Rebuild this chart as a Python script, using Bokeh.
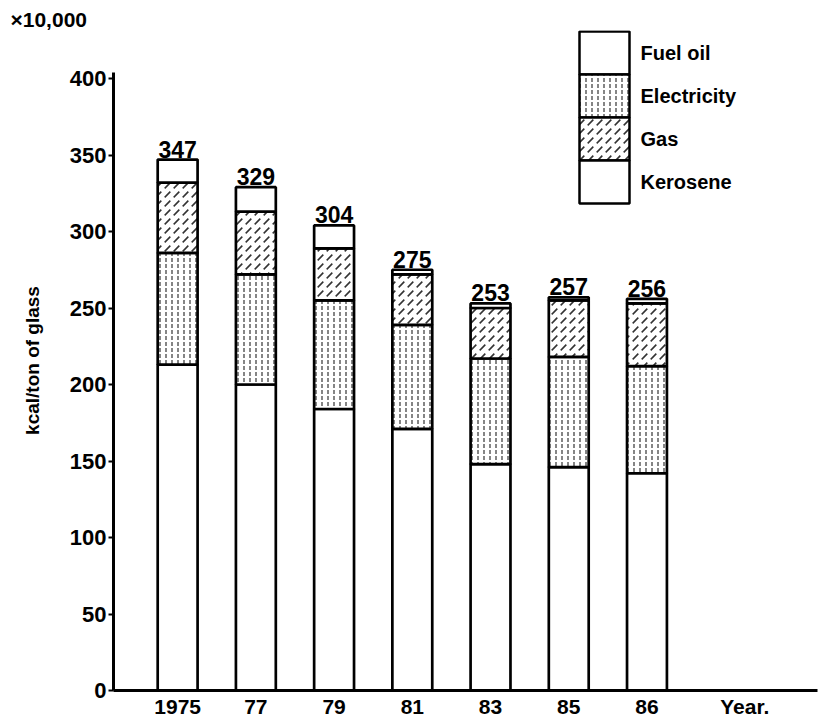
from bokeh.plotting import figure
from bokeh.models import ColumnDataSource, FixedTicker
from bokeh.embed import file_html
from bokeh.resources import INLINE
from bokeh.core.properties import value

years = ["1975", "77", "79", "81", "83", "85", "86"]
fuel_oil = [213, 200, 184, 171, 148, 146, 142]
electricity = [73, 72, 71, 68, 69, 72, 70]
gas = [46, 41, 34, 33, 33, 37, 41]
kerosene = [15, 16, 15, 3, 3, 2, 3]
totals = [347, 329, 304, 275, 253, 257, 256]
series = ["Fuel oil", "Electricity", "Gas", "Kerosene"]
y_ticks = [0, 50, 100, 150, 200, 250, 300, 350, 400]

FONT = "Liberation Sans"
HATCH = [" ", "vertical_dash", "right_diagonal_dash", " "]
HSCALE = [6, 6, 9, 6]
HWEIGHT = [1, 1.2, 1.6, 1]
HALPHA = [0, 0.8, 0.8, 0]

# frame geometry (px) and ranges
LEFT, RIGHT, TOP, BOTTOM = 113, 817, 30, 690
X0, X1 = -0.82, 8.18
PX_PER_Y = (BOTTOM - 78) / 400.0
Y1 = (BOTTOM - TOP) / PX_PER_Y
PX_PER_X = (RIGHT - LEFT) / (X1 - X0)


def dx(px):
    return X0 + (px - LEFT) / PX_PER_X


def dy(py):
    return (BOTTOM - py) / PX_PER_Y


xs = list(range(len(years)))
src = ColumnDataSource(dict(x=xs, fuel=fuel_oil, elec=electricity, gas=gas,
                            kero=kerosene, total=totals,
                            lbl=[str(t) for t in totals]))

p = figure(width=822, height=720, output_backend="svg", toolbar_location=None,
           x_range=(X0, X1), y_range=(0, Y1),
           min_border_left=LEFT, min_border_right=822 - RIGHT,
           min_border_top=TOP, min_border_bottom=720 - BOTTOM)
p.outline_line_color = None
p.grid.visible = False

p.vbar_stack(["fuel", "elec", "gas", "kero"], x="x", width=0.51, source=src,
             fill_color="white", line_color="black", line_width=2.7,
             hatch_pattern=HATCH, hatch_color="black", hatch_scale=HSCALE,
             hatch_weight=HWEIGHT, hatch_alpha=HALPHA)

p.text(x="x", y="total", text="lbl", source=src, text_align="center",
       text_baseline="bottom", y_offset=-2, text_font=value(FONT),
       text_font_style="bold", text_font_size="23px", text_color="black")

# legend: a contiguous column of boxes, top to bottom
box_tops = [31 + 43 * i for i in range(4)]
lsrc = ColumnDataSource(dict(
    left=[dx(579)] * 4, right=[dx(629)] * 4,
    top=[dy(t) for t in box_tops], bottom=[dy(t + 43) for t in box_tops],
    hatch=HATCH, hs=HSCALE, hw=HWEIGHT, ha=HALPHA,
    tx=[dx(640)] * 4, ty=[dy(t + 21.5) for t in box_tops], label=series))
p.quad(left="left", right="right", top="top", bottom="bottom", source=lsrc,
       fill_color="white", line_color="black", line_width=2.5,
       hatch_pattern="hatch", hatch_scale="hs", hatch_weight="hw",
       hatch_alpha="ha", hatch_color="black")
p.text(x="tx", y="ty", text="label", source=lsrc, text_baseline="middle",
       text_font=value(FONT), text_font_style="bold", text_font_size="20px",
       text_color="black")

tick_pos = xs + [7.25]
p.xaxis.ticker = FixedTicker(ticks=tick_pos)
ov = {i: y for i, y in enumerate(years)}
ov[7.25] = "Year."
p.xaxis.major_label_overrides = ov
p.xaxis.major_tick_line_color = None
p.xaxis.major_tick_out = 0
p.xaxis.major_tick_in = 0
p.xaxis.minor_tick_line_color = None
p.xaxis.axis_line_width = 3
p.xaxis.major_label_text_font = FONT
p.xaxis.major_label_text_font_style = "bold"
p.xaxis.major_label_text_font_size = "21px"
p.xaxis.major_label_text_color = "black"
p.xaxis.major_label_standoff = 4

p.yaxis.ticker = FixedTicker(ticks=y_ticks)
p.yaxis.bounds = (0, 404)
p.yaxis.axis_line_width = 3
p.yaxis.major_tick_in = 0
p.yaxis.major_tick_out = 5
p.yaxis.major_tick_line_width = 2
p.yaxis.minor_tick_line_color = None
p.yaxis.major_label_text_font = FONT
p.yaxis.major_label_text_font_style = "bold"
p.yaxis.major_label_text_font_size = "22px"
p.yaxis.major_label_text_color = "black"
p.yaxis.major_label_standoff = 2
p.yaxis.axis_label = "kcal/ton of glass"
p.yaxis.axis_label_text_font = FONT
p.yaxis.axis_label_text_font_style = "bold"
p.yaxis.axis_label_text_font_size = "19px"
p.yaxis.axis_label_text_color = "black"
p.yaxis.axis_label_standoff = 24

# unit note at the top left, as the title
p.title.text = "×10,000"
p.title.align = "left"
p.title.offset = -103
p.title.standoff = 0
p.title.text_font = FONT
p.title.text_font_style = "bold"
p.title.text_font_size = "21px"
p.title.text_color = "black"

open("out.html", "w").write(file_html(p, INLINE))
